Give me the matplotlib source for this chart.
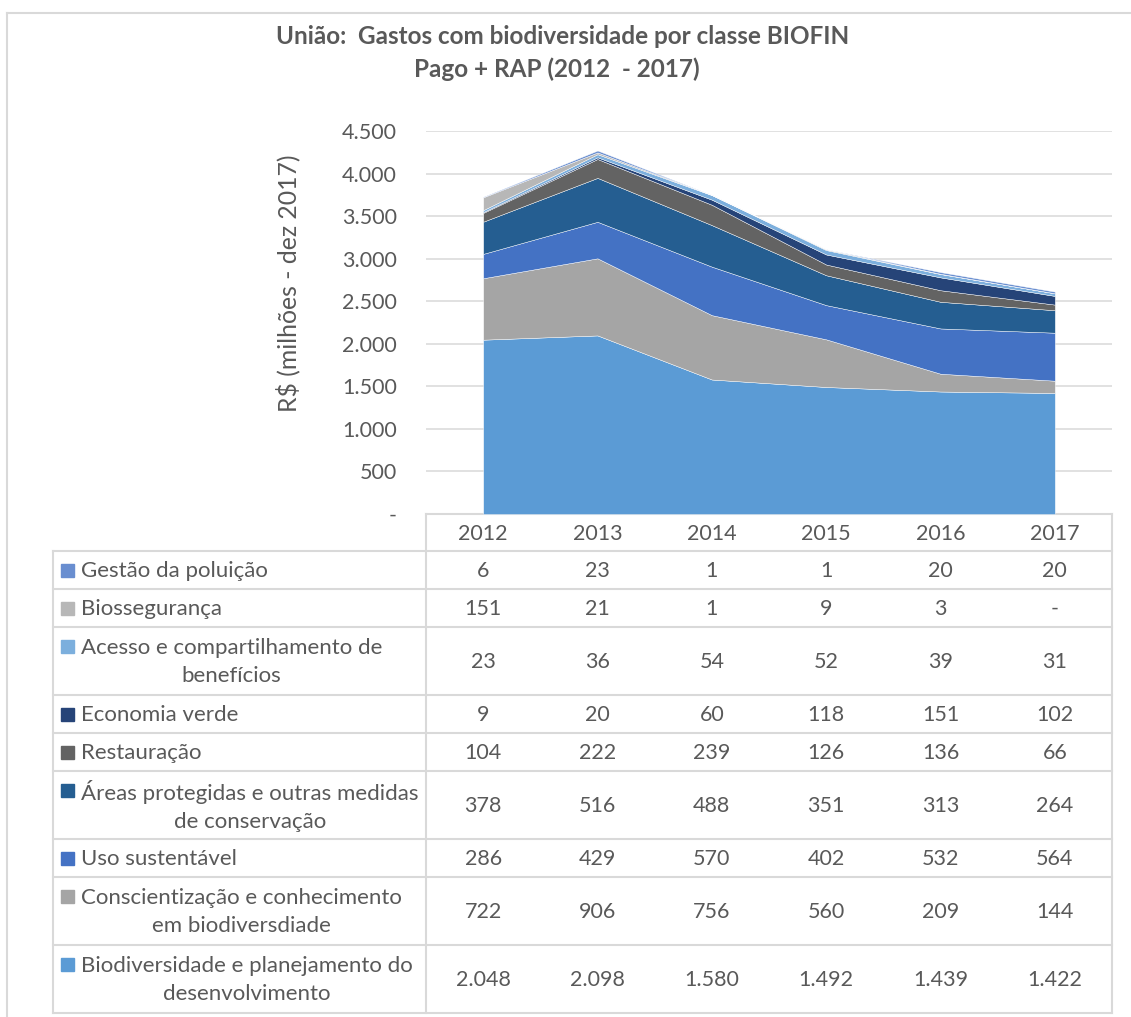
import matplotlib
matplotlib.use("Agg")
import matplotlib.pyplot as plt
import numpy as np

plt.rcParams['font.family'] = ['Lato', 'DejaVu Sans']

anos = ['2012', '2013', '2014', '2015', '2016', '2017']

# series in table order (top to bottom)
classes = ['Gestão da poluição',
           'Biossegurança',
           'Acesso e compartilhamento de\nbenefícios',
           'Economia verde',
           'Restauração',
           'Áreas protegidas e outras medidas\nde conservação',
           'Uso sustentável',
           'Conscientização e conhecimento\nem biodiversdiade',
           'Biodiversidade e planejamento do\ndesenvolvimento']
gestao = [6, 23, 1, 1, 20, 20]
biosseg = [151, 21, 1, 9, 3, 0]
acesso = [23, 36, 54, 52, 39, 31]
econ_verde = [9, 20, 60, 118, 151, 102]
restauracao = [104, 222, 239, 126, 136, 66]
areas_prot = [378, 516, 488, 351, 313, 264]
uso_sust = [286, 429, 570, 402, 532, 564]
conscient = [722, 906, 756, 560, 209, 144]
biodiv_plan = [2048, 2098, 1580, 1492, 1439, 1422]
cores = ['#698ED0', '#B7B7B7', '#7CAFDD', '#264478', '#636363',
         '#255E91', '#4472C4', '#A5A5A5', '#5B9BD5']

series = [gestao, biosseg, acesso, econ_verde, restauracao,
          areas_prot, uso_sust, conscient, biodiv_plan]

W, H = 1131, 1017
fig = plt.figure(figsize=(W / 100, H / 100), dpi=100)
txt = '#595959'
grid = '#D9D9D9'
fs_num = 15.5
fs_lab = 16

# background axes in pixel coords for border + table
bg = fig.add_axes([0, 0, 1, 1])
bg.set_xlim(0, W)
bg.set_ylim(H, 0)
bg.axis('off')

# plot area
x0, x1, ytop, ybot = 426, 1112, 131, 514
ax = fig.add_axes([x0 / W, 1 - ybot / H, (x1 - x0) / W, (ybot - ytop) / H])
x = np.arange(len(anos))
ax.stackplot(x, series[::-1], colors=cores[::-1], edgecolor='white', linewidth=0.3)
ax.set_xlim(-0.5, len(anos) - 0.5)
ax.set_ylim(0, 4500)
yt = np.arange(0, 4501, 500)
ax.set_yticks(yt)
ax.set_yticklabels(['-' if v == 0 else f'{v:,}'.replace(',', '.') for v in yt],
                   fontsize=fs_num, color=txt)
ax.tick_params(axis='y', length=0, pad=21)
ax.set_xticks([])
for s in ax.spines.values():
    s.set_visible(False)
ax.yaxis.grid(True, color=grid, linewidth=1.1)
ax.set_axisbelow(True)
ax.patch.set_alpha(0)

fig.text(288 / W, 1 - 283 / H, 'R$ (milhões - dez 2017)', rotation=90,
         ha='center', va='center', fontsize=17.8, color=txt)

fig.text(563 / W, 1 - 37 / H, 'União:  Gastos com biodiversidade por classe BIOFIN',
         ha='center', va='center', fontsize=17.5, fontweight='bold', color=txt)
fig.text(557 / W, 1 - 69 / H, 'Pago + RAP (2012  - 2017)',
         ha='center', va='center', fontsize=17.5, fontweight='bold', color=txt)

# outer chart border
bg.plot([7, W], [13, 13], color=grid, lw=1.5)
bg.plot([7, 7], [13, H], color=grid, lw=1.5)

# data table
tl = 53
col_w = (x1 - x0) / len(anos)
row_y = [551]
for c in classes:
    row_y.append(row_y[-1] + (68 if '\n' in c else 38))

lc = '#D9D9D9'
bg.plot([x0, x1], [ybot, ybot], color=lc, lw=1.5)
for yy in row_y:
    bg.plot([tl, x1], [yy, yy], color=lc, lw=1.5)
bg.plot([tl, tl], [row_y[0], row_y[-1]], color=lc, lw=1.5)
bg.plot([x0, x0], [ybot, row_y[-1]], color=lc, lw=1.5)
bg.plot([x1, x1], [ybot, row_y[-1]], color=lc, lw=1.5)

for j, a in enumerate(anos):
    bg.text(x0 + (j + 0.5) * col_w, (ybot + row_y[0]) / 2 + 1, a,
            ha='center', va='center', fontsize=fs_num, color=txt)

for i, (nome, vals, cor) in enumerate(zip(classes, series, cores)):
    yc = (row_y[i] + row_y[i + 1]) / 2
    ly = row_y[i] + 19
    bg.add_patch(plt.Rectangle((61, ly - 6.5), 13, 13, color=cor))
    bg.text(81, yc + 1, nome, ha='left', va='center', multialignment='center',
            fontsize=fs_lab, color=txt, linespacing=1.5)
    for j, v in enumerate(vals):
        s = '-' if v == 0 else f'{v:,}'.replace(',', '.')
        bg.text(x0 + (j + 0.5) * col_w, yc + 1, s, ha='center', va='center',
                fontsize=fs_num, color=txt)

fig.savefig('out.png', dpi=100)
